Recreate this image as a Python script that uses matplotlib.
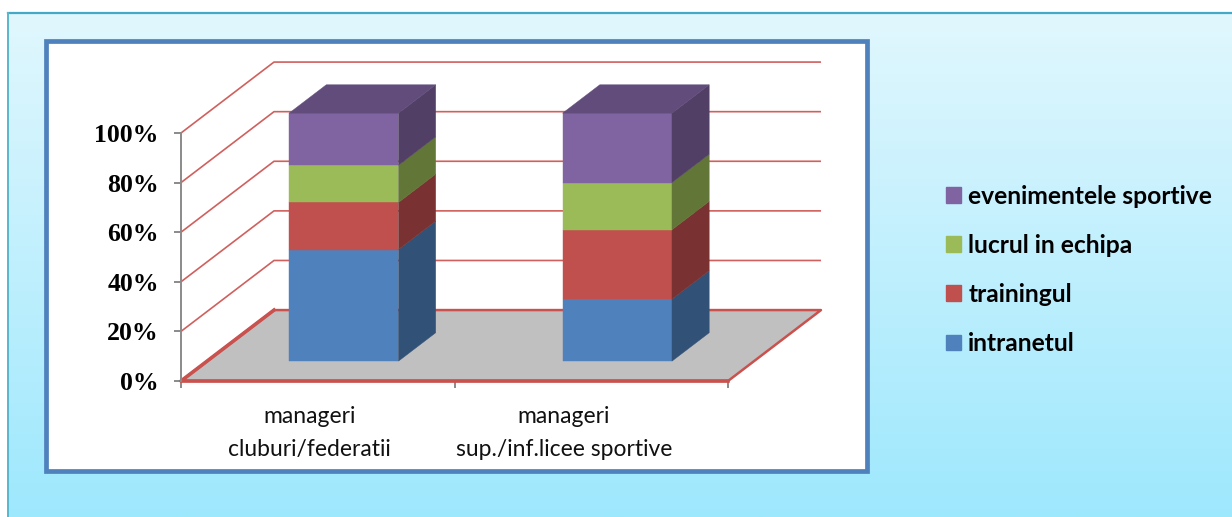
import numpy as np
import matplotlib
matplotlib.use("Agg")
import matplotlib.pyplot as plt
from matplotlib.patches import Polygon, Rectangle, Patch
from matplotlib.colors import to_rgb, LinearSegmentedColormap

# ---- data -------------------------------------------------------------
categories = ["manageri\ncluburi/federatii", "manageri\nsup./inf.licee sportive"]
series_names = ["intranetul", "trainingul", "lucrul in echipa", "evenimentele sportive"]
intranetul = [45, 25]
trainingul = [19, 28]
lucrul_in_echipa = [15, 19]
evenimentele_sportive = [21, 28]
y_ticks = [0, 20, 40, 60, 80, 100]
y_tick_labels = ["0%", "20%", "40%", "60%", "80%", "100%"]

series_values = [intranetul, trainingul, lucrul_in_echipa, evenimentele_sportive]
series_colors = ["#4f81bd", "#c0504d", "#9bbb59", "#8064a2"]

# ---- figure and background -------------------------------------------
W, H = 1232, 517
fig = plt.figure(figsize=(W / 100, H / 100), dpi=100)
fig.patch.set_facecolor("white")

bg = fig.add_axes([0, 0, 1, 1], zorder=-10)
bg.set_xlim(0, W)
bg.set_ylim(H, 0)
bg.axis("off")
grad = LinearSegmentedColormap.from_list("sky", ["#e1f7fe", "#9ee8fd"])
bg.imshow(np.linspace(0, 1, 256).reshape(-1, 1), cmap=grad, aspect="auto",
          extent=(8, W, H, 13), zorder=0)
bg.plot([8, W], [13, 13], color="#45a8c4", lw=1.6, zorder=1)
bg.plot([8, 8], [13, H], color="#5ab6cd", lw=1.4, zorder=1)
bg.add_patch(Rectangle((45.5, 40.5), 821, 430, facecolor="white",
                       edgecolor="#4f81bd", lw=3.4, zorder=2))

# ---- 3D-look stacked bars -------------------------------------------
DX, DY = 0.34, 28.6          # depth offset of the back wall in data units
PX_X, PX_Y = 273.5, 2.48     # pixels per category unit / per percent
n_cat = len(categories)
ax_left, ax_bottom = 181, 381
ax_w = (n_cat + DX) * PX_X
ax_h = (100 + DY) * PX_Y
ax = fig.add_axes([ax_left / W, (H - ax_bottom) / H, ax_w / W, ax_h / H], zorder=5)
ax.set_xlim(0, n_cat + DX)
ax.set_ylim(0, 100 + DY)
ax.patch.set_visible(False)


def proj(x, p, z):
    return (x + z * DX, p + z * DY)


# back wall gridlines
for p in y_ticks[1:]:
    xs, ys = zip(proj(0, p, 0), proj(0, p, 1), proj(n_cat, p, 1))
    ax.plot(xs, ys, color="#d0605d", lw=1.2, zorder=1, clip_on=False,
            solid_capstyle="butt")

# floor
floor = [proj(0, 0, 0), proj(n_cat, 0, 0), proj(n_cat, 0, 1), proj(0, 0, 1)]
ax.add_patch(Polygon(floor, closed=True, facecolor="#c0c0c0", edgecolor="#c9514e",
                     lw=1.8, zorder=2, clip_on=False, joinstyle="round"))
fx, fy = zip(proj(0, 0, 1), proj(0, 0, 0), proj(n_cat, 0, 0))
ax.plot(fx, fy, color="#c9514e", lw=2.6, zorder=2.5, clip_on=False)


def shade(color, f):
    return tuple(c * f for c in to_rgb(color))


half_w = 0.2
z0, z1 = 0.28, 0.68
for i in range(n_cat):
    c = i + 0.5
    base = 0
    totals = sum(v[i] for v in series_values)
    for k, (vals, col) in enumerate(zip(series_values, series_colors)):
        top = base + vals[i] * 100 / totals
        front = [proj(c - half_w, base, z0), proj(c + half_w, base, z0),
                 proj(c + half_w, top, z0), proj(c - half_w, top, z0)]
        side = [proj(c + half_w, base, z0), proj(c + half_w, base, z1),
                proj(c + half_w, top, z1), proj(c + half_w, top, z0)]
        ax.add_patch(Polygon(front, closed=True, facecolor=col, edgecolor=col,
                             lw=0.3, zorder=4, clip_on=False))
        ax.add_patch(Polygon(side, closed=True, facecolor=shade(col, 0.63),
                             edgecolor=shade(col, 0.63), lw=0.3, zorder=4, clip_on=False))
        if k == len(series_values) - 1:
            lid = [proj(c - half_w, top, z0), proj(c + half_w, top, z0),
                   proj(c + half_w, top, z1), proj(c - half_w, top, z1)]
            ax.add_patch(Polygon(lid, closed=True, facecolor=shade(col, 0.76),
                                 edgecolor=shade(col, 0.76), lw=0.3, zorder=4,
                                 clip_on=False))
        base = top

# ---- axes decoration --------------------------------------------------
for s in ["top", "right", "bottom"]:
    ax.spines[s].set_visible(False)
ax.spines["left"].set_bounds(0, 100)
ax.spines["left"].set_color("#8a8a8a")
ax.spines["left"].set_linewidth(1.4)
ax.spines["left"].set_zorder(3)

ax.set_yticks(y_ticks)
ax.set_yticklabels(y_tick_labels, fontfamily="Liberation Serif", fontweight="bold",
                   fontsize=18.5, color="black")
ax.tick_params(axis="y", direction="out", length=5, width=1.4, color="#8a8a8a", pad=11)

ax.set_xticks(np.arange(n_cat + 1))
ax.set_xticklabels([])
ax.tick_params(axis="x", which="major", direction="out", length=5, width=1.4,
               color="#8a8a8a")
label_pos = [0.47, 1.40]
ax.set_xticks(label_pos, minor=True)
ax.set_xticklabels(categories, minor=True, fontfamily="Lato", fontsize=16.5,
                   color="#111111", linespacing=1.7)
ax.tick_params(axis="x", which="minor", length=0, pad=18)

# ---- legend ------------------------------------------------------------
handles = [Patch(facecolor=c, edgecolor=c) for c in series_colors][::-1]
leg = fig.legend(handles, series_names[::-1], loc="upper left",
                 bbox_to_anchor=(946 / W, (H - 185) / H), bbox_transform=fig.transFigure,
                 frameon=False, borderpad=0, borderaxespad=0,
                 handlelength=0.62, handleheight=0.62,
                 handletextpad=0.28, labelspacing=1.06,
                 prop={"family": "Lato", "weight": "bold", "size": 17.7})

fig.savefig("out.png", dpi=100)
